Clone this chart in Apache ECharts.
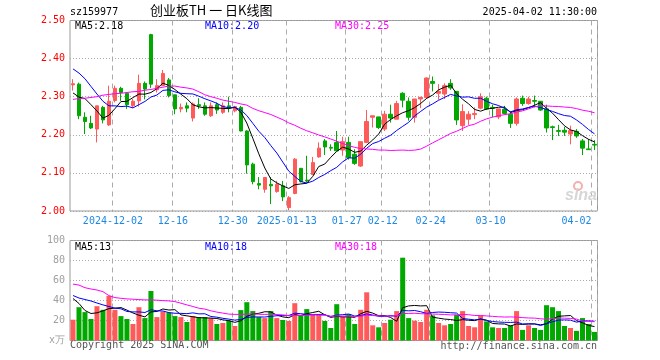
<!DOCTYPE html>
<html><head><meta charset="utf-8">
<script src="https://cdn.jsdelivr.net/npm/echarts@6/dist/echarts.min.js"></script>
<style>html,body{margin:0;padding:0;background:#fff}#c{width:660px;height:360px}</style>
</head><body><div id="c"></div>
<script>
const dates = [
'2024-11-21','2024-11-22','2024-11-25','2024-11-26','2024-11-27','2024-11-28','2024-11-29',
'2024-12-02','2024-12-03','2024-12-04','2024-12-05','2024-12-06','2024-12-09','2024-12-10','2024-12-11','2024-12-12','2024-12-13',
'2024-12-16','2024-12-17','2024-12-18','2024-12-19','2024-12-20','2024-12-23','2024-12-24','2024-12-25','2024-12-26','2024-12-27',
'2024-12-30','2024-12-31',
'2025-01-02','2025-01-03','2025-01-06','2025-01-07','2025-01-08','2025-01-09','2025-01-10','2025-01-13','2025-01-14','2025-01-15',
'2025-01-16','2025-01-17','2025-01-20','2025-01-21','2025-01-22','2025-01-23','2025-01-24','2025-01-27',
'2025-02-05','2025-02-06','2025-02-07','2025-02-10','2025-02-11','2025-02-12','2025-02-13','2025-02-14','2025-02-17','2025-02-18',
'2025-02-19','2025-02-20','2025-02-21','2025-02-24','2025-02-25','2025-02-26','2025-02-27','2025-02-28',
'2025-03-03','2025-03-04','2025-03-05','2025-03-06','2025-03-07','2025-03-10','2025-03-11','2025-03-12','2025-03-13','2025-03-14',
'2025-03-17','2025-03-18','2025-03-19','2025-03-20','2025-03-21','2025-03-24','2025-03-25','2025-03-26','2025-03-27','2025-03-28',
'2025-03-31','2025-04-01','2025-04-02'];

const opens = [2.331,2.333,2.246,2.230,2.215,2.272,2.226,2.290,2.322,2.309,
2.276,2.289,2.335,2.463,2.318,2.329,2.344,2.305,2.268,2.276,
2.244,2.279,2.276,2.250,2.279,2.259,2.276,2.263,2.272,2.210,
2.123,2.072,2.057,2.070,2.051,2.066,2.009,2.046,2.112,2.081,
2.096,2.142,2.184,2.167,2.180,2.160,2.180,2.149,2.118,2.180,
2.246,2.247,2.215,2.254,2.241,2.309,2.288,2.246,2.294,2.298,
2.340,2.309,2.307,2.335,2.314,2.224,2.241,2.253,2.270,2.296,
2.272,2.247,2.267,2.254,2.230,2.296,2.282,2.290,2.288,2.268,
2.221,2.211,2.212,2.202,2.209,2.184,2.163,2.175];
const closes = [2.334,2.250,2.235,2.218,2.276,2.239,2.288,2.322,2.311,2.279,
2.288,2.335,2.320,2.333,2.329,2.361,2.303,2.268,2.272,2.270,
2.281,2.276,2.254,2.276,2.265,2.276,2.272,2.274,2.210,2.121,
2.077,2.068,2.088,2.066,2.070,2.037,2.035,2.136,2.077,2.079,
2.127,2.165,2.168,2.165,2.158,2.182,2.140,2.125,2.182,2.235,
2.250,2.219,2.254,2.244,2.282,2.291,2.246,2.294,2.298,2.349,
2.335,2.314,2.329,2.323,2.239,2.261,2.254,2.256,2.300,2.268,
2.270,2.268,2.256,2.230,2.294,2.282,2.294,2.288,2.265,2.218,
2.219,2.209,2.207,2.211,2.197,2.165,2.161,2.173];
const lows = [2.316,2.241,2.202,2.215,2.180,2.230,2.223,2.285,2.289,2.268,
2.271,2.274,2.293,2.323,2.311,2.329,2.298,2.254,2.259,2.259,
2.235,2.268,2.250,2.247,2.255,2.255,2.259,2.259,2.209,2.098,
2.070,2.057,2.048,2.018,2.048,2.026,2.002,2.044,2.075,2.075,
2.096,2.140,2.147,2.158,2.158,2.145,2.135,2.121,2.116,2.178,
2.219,2.215,2.210,2.232,2.241,2.272,2.237,2.232,2.270,2.294,
2.314,2.292,2.294,2.318,2.226,2.210,2.226,2.241,2.267,2.265,
2.246,2.241,2.253,2.218,2.224,2.276,2.279,2.272,2.263,2.206,
2.186,2.197,2.197,2.175,2.192,2.147,2.161,2.160];
const highs = [2.346,2.337,2.259,2.250,2.276,2.276,2.329,2.329,2.326,2.312,
2.294,2.358,2.340,2.465,2.346,2.370,2.349,2.305,2.282,2.285,
2.285,2.296,2.285,2.285,2.285,2.285,2.300,2.276,2.276,2.212,
2.127,2.089,2.089,2.089,2.079,2.079,2.039,2.139,2.112,2.145,
2.142,2.180,2.189,2.175,2.210,2.195,2.195,2.162,2.182,2.265,
2.250,2.247,2.263,2.279,2.289,2.312,2.298,2.294,2.300,2.351,
2.353,2.333,2.335,2.346,2.314,2.280,2.262,2.272,2.309,2.300,
2.279,2.268,2.276,2.262,2.298,2.303,2.300,2.303,2.288,2.279,
2.224,2.226,2.221,2.224,2.215,2.189,2.189,2.186];
const volumes = [20.8,33.3,28.4,21.5,34.3,30.7,44.6,30.7,24.4,21.5,
16.5,33.3,22.4,49.5,23.4,29,28,24.4,23.4,18.5,
24.4,23.4,23.4,22.4,16.5,17.5,19.8,14.5,30.4,38.3,
29.4,23.4,22.4,29.4,22.4,20.5,19.5,37.3,25.4,31.4,
26.4,25.7,19.5,12.5,36.3,24,26.4,16.5,30.7,48.2,
15.2,13.2,17.5,20.8,29.4,82.8,22.4,19.8,18.5,30.7,
25.1,17.5,15.2,16.5,25.7,29.4,14.5,13.2,25.1,19.1,
13.2,12.5,12.5,15.2,29.4,10.6,15.2,12.5,10.6,35.3,
33.3,29.4,14.5,12.5,9.6,22.4,16.5,8.6];

// moving-average values before the window starts
const priceMa5Head = [2.310,2.299,2.295,2.279];
const priceMa10Head = [2.373,2.362,2.347,2.327,2.307,2.288,2.276,2.276,2.274];
const priceMa30Head = [2.293,2.295,2.296,2.298,2.300,2.304,2.306,2.308,2.309,2.311,
2.313,2.314,2.317,2.319,2.322,2.325,2.328,2.328,2.325,2.323,
2.320,2.313,2.305,2.300,2.296,2.291,2.288,2.285,2.281];
const volMa5Head = [42,37,30,27];
const volMa10Head = [45,42.5,41,39.5,37.5,35.6,34,32.3,31.7];
const volMa30Head = [56.4,55.4,52.8,51.5,50.5,48.8,44.9,42.9,42.2,41.6,
41.3,40.9,40.6,40.6,40.3,39.9,39.6,38.9,37.3,35.6,
34,32.3,31.4,29.7,28.4,27.4,26.4,26.1,26.1];

const tickDates = ['2024-12-02','2024-12-16','2024-12-30','2025-01-13','2025-01-27','2025-02-12','2025-02-24','2025-03-10','2025-04-02'];
const tickTexts = ['2024-12-02','12-16','12-30','2025-01-13','01-27','02-12','02-24','03-10','04-02'];
const priceLegend = ['MA5:2.18','MA10:2.20','MA30:2.25'];
const volLegend = ['MA5:13','MA10:18','MA30:18'];
const titleText = '创业板TH 一 日K线图';
const codeText = 'sz159977';
const timeText = '2025-04-02 11:30:00';

const UP = '#ff5a5a', DOWN = '#00a800';
const MONO = "'DejaVu Sans Mono', monospace";
const maColors = ['#000000','#0000ff','#ff00ff'];

function movingAvg(vals, n, head) {
  return vals.map((v, i) => {
    if (i < n - 1) return head[i];
    let s = 0; for (let k = i - n + 1; k <= i; k++) s += vals[k];
    return +(s / n).toFixed(4);
  });
}

const kData = dates.map((d, i) => [opens[i], closes[i], lows[i], highs[i]]);
const volData = volumes.map((v, i) => ({value: v, itemStyle: {color: closes[i] >= opens[i] ? UP : DOWN}}));
const pMA = [movingAvg(closes,5,priceMa5Head), movingAvg(closes,10,priceMa10Head), movingAvg(closes,30,priceMa30Head)];
const vMA = [movingAvg(volumes,5,volMa5Head), movingAvg(volumes,10,volMa10Head), movingAvg(volumes,30,volMa30Head)];

const isTick = (idx, val) => tickDates.indexOf(dates[idx]) >= 0;
const vSplit = {show: true, interval: isTick, lineStyle: {color: '#aaaaaa', type: [5,4], width: 1}};
const hSplit = {show: true, lineStyle: {color: '#aaaaaa', type: [1,2], width: 1}};

const chart = echarts.init(document.getElementById('c'), null, {renderer: 'canvas'});
const lineS = (data, xi, color, z) => ({type: 'line', xAxisIndex: xi, yAxisIndex: xi, data, symbol: 'none',
  lineStyle: {width: 1, color}, itemStyle: {color}, z, silent: true});

chart.setOption({
  animation: false,
  backgroundColor: '#ffffff',
  grid: [
    {left: 70, width: 527.5, top: 20.5, height: 190.5, show: true, borderColor: '#999999', borderWidth: 1, backgroundColor: 'transparent'},
    {left: 70, width: 527.5, top: 240.5, height: 100, show: true, borderColor: '#999999', borderWidth: 1, backgroundColor: 'transparent'}
  ],
  xAxis: [
    {type: 'category', gridIndex: 0, data: dates, boundaryGap: true,
     axisLine: {show: false}, axisTick: {show: false}, splitLine: vSplit,
     axisLabel: {show: true, interval: isTick, margin: 5, color: '#1e88e5', fontFamily: MONO, fontSize: 10,
       formatter: (v) => { const t = tickTexts[tickDates.indexOf(v)]; return v === dates[dates.length-1] ? '{e|' + t + '}' : '{n|' + t + '}'; },
       rich: {n: {padding: [0,4,0,0], color: '#1e88e5', fontFamily: MONO, fontSize: 10},
              e: {padding: [0,36,0,0], color: '#1e88e5', fontFamily: MONO, fontSize: 10}}}},
    {type: 'category', gridIndex: 1, data: dates, boundaryGap: true,
     axisLine: {show: false}, axisTick: {show: false}, axisLabel: {show: false}, splitLine: vSplit}
  ],
  yAxis: [
    {type: 'value', gridIndex: 0, min: 2.0, max: 2.5, interval: 0.1, axisLine: {show: false}, axisTick: {show: false},
     splitLine: hSplit,
     axisLabel: {color: '#ff0000', fontFamily: MONO, fontSize: 10, margin: 5, formatter: v => v.toFixed(2)}},
    {type: 'value', gridIndex: 1, min: 0, max: 100, interval: 20, axisLine: {show: false}, axisTick: {show: false},
     splitLine: hSplit,
     axisLabel: {color: '#a0a0a0', fontFamily: MONO, fontSize: 10, margin: 5, formatter: v => v === 0 ? 'x万' : String(v)}}
  ],
  series: [
    {type: 'candlestick', xAxisIndex: 0, yAxisIndex: 0, data: kData, barWidth: 4, z: 3,
     itemStyle: {color: UP, color0: DOWN, borderColor: UP, borderColor0: DOWN, borderWidth: 1}},
    lineS(pMA[0], 0, maColors[0], 4), lineS(pMA[1], 0, maColors[1], 4), lineS(pMA[2], 0, maColors[2], 4),
    {type: 'bar', xAxisIndex: 1, yAxisIndex: 1, data: volData, barWidth: 5, z: 3},
    lineS(vMA[0], 1, maColors[0], 4), lineS(vMA[1], 1, maColors[1], 4), lineS(vMA[2], 1, maColors[2], 4)
  ],
  graphic: [
    {type: 'text', left: 70, top: 7, style: {text: codeText, font: '10px ' + MONO, fill: '#000'}},
    {type: 'text', left: 150, top: 4, style: {text: titleText, font: "13px 'Noto Sans CJK SC', sans-serif", fill: '#000'}},
    {type: 'text', right: 63, top: 7, style: {text: timeText, font: '10px ' + MONO, fill: '#000'}},
    {type: 'text', left: 75, top: 21, style: {text: priceLegend[0], font: '10px ' + MONO, fill: maColors[0]}},
    {type: 'text', left: 205, top: 21, style: {text: priceLegend[1], font: '10px ' + MONO, fill: maColors[1]}},
    {type: 'text', left: 335, top: 21, style: {text: priceLegend[2], font: '10px ' + MONO, fill: maColors[2]}},
    {type: 'text', left: 75, top: 242, style: {text: volLegend[0], font: '10px ' + MONO, fill: maColors[0]}},
    {type: 'text', left: 205, top: 242, style: {text: volLegend[1], font: '10px ' + MONO, fill: maColors[1]}},
    {type: 'text', left: 335, top: 242, style: {text: volLegend[2], font: '10px ' + MONO, fill: maColors[2]}},
    {type: 'text', left: 70, top: 340, style: {text: 'Copyright 2025 SINA.COM', font: '10px ' + MONO, fill: '#555'}},
    {type: 'text', right: 63, top: 341, style: {text: 'http://finance.sina.com.cn', font: '10px ' + MONO, fill: '#555'}},
    {type: 'circle', shape: {cx: 578, cy: 186, r: 4}, style: {fill: 'none', stroke: '#f2b0b0', lineWidth: 2}, z: 1},
    {type: 'text', left: 565, top: 188, style: {text: 'sina', font: 'italic bold 16px sans-serif', fill: '#d6d6d6'}, z: 1}
  ]
});
</script></body></html>
